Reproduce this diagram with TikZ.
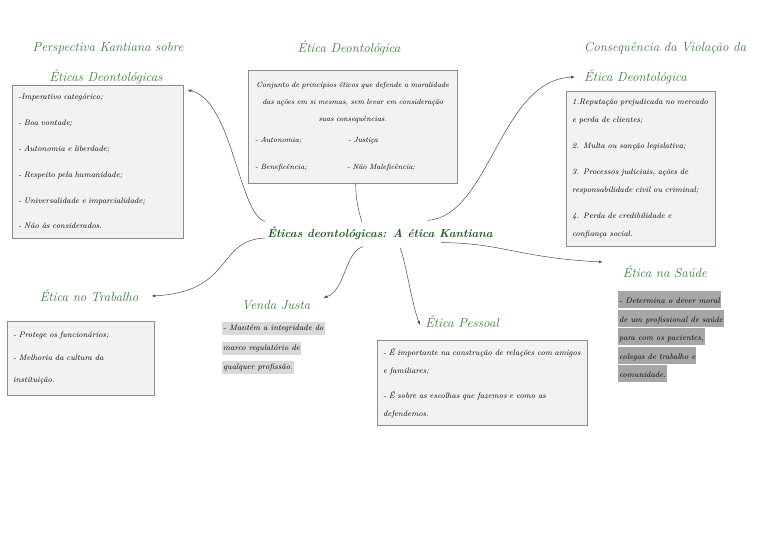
\documentclass[tikz,border=0pt]{standalone}
\usepackage{fontspec}
\usetikzlibrary{arrows.meta}
\definecolor{tituloverde}{HTML}{3B7A3B}
\definecolor{verdeescuro}{HTML}{1D5C1D}
\definecolor{caixafundo}{HTML}{F2F2F2}
\definecolor{caixaborda}{HTML}{8C8C8C}
\definecolor{realce}{HTML}{D9D9D9}
\definecolor{realceforte}{HTML}{A6A6A6}
\setlength{\fboxsep}{1pt}
\newcommand{\marca}[3][11pt]{\colorbox{#2}{\rule[-3.5pt]{0pt}{#1}#3}}
\begin{document}
\begin{tikzpicture}[x=1pt, y=-1pt,
  titulo/.style={font=\fontsize{13}{15}\selectfont\itshape, text=tituloverde, inner sep=1pt},
  caixa/.style={draw=caixaborda, fill=caixafundo, anchor=north west, align=left, inner xsep=6pt, font=\fontsize{8}{18}\selectfont\itshape},
  ligacao/.style={draw=black!70, line width=0.5pt, -{Latex[length=4pt,width=3pt]}}]
\useasboundingbox (0,0) rectangle (768,543);

% tema central
\node[font=\fontsize{11.5}{13}\selectfont\bfseries\itshape, text=verdeescuro, inner sep=2pt] (central) at (380,233) {Éticas deontológicas: A ética Kantiana};

% titulos
\node[titulo] (kanttituloA) at (108,48) {Perspectiva Kantiana sobre};
\node[titulo] (kanttituloB) at (106,77) {Éticas Deontológicas};
\node[titulo] (deontitulo) at (349,48) {Ética Deontológica};
\node[titulo, anchor=west] (constituloA) at (583,48) {Consequência da Violação da};
\node[titulo, anchor=west] (constituloB) at (583,77) {Ética Deontológica};
\node[titulo] (trabtitulo) at (89,296) {Ética no Trabalho};
\node[titulo] (vendatitulo) at (276,305) {Venda Justa};
\node[titulo] (pessoaltitulo) at (462,322) {Ética Pessoal};
\node[titulo] (saudetitulo) at (665,272) {Ética na Saúde};

% caixas
\node[caixa, text width=159pt, minimum height=153pt, inner ysep=8pt, font=\fontsize{8}{25.8}\selectfont\itshape] (kantbox) at (12,85) {-Imperativo categórico;\\ - Boa vontade;\\ - Autonomia e liberdade;\\ - Respeito pela humanidade;\\ - Universalidade e imparcialidade;\\ - Não às considerados.};
\node[caixa, align=center, text width=203pt, inner xsep=3pt, minimum height=113pt, inner ysep=9pt, font=\fontsize{7.5}{17}\selectfont\itshape] (deonbox) at (248,70) {\mbox{Conjunto de princípios éticos que defende a moralidade}\\ das ações em si mesmas, sem levar em consideração\\ suas consequências.\\[4pt]
  \makebox[203pt][l]{\hspace*{4pt}\makebox[93pt][l]{- Autonomia;}- Justiça}\\[10pt]
  \makebox[203pt][l]{\hspace*{4pt}\makebox[92pt][l]{- Beneficência;}- Não Maleficência;}};
\node[caixa, text width=137pt, minimum height=155pt, inner ysep=8pt] (consbox) at (566,91) {1.Reputação prejudicada no mercado\\ e perda de clientes;\\[8pt] 2. Multa ou sanção legislativa;\\[8pt] 3. Processos judiciais, ações de\\ responsabilidade civil ou criminal;\\[8pt] 4. Perda de credibilidade e\\ confiança social.};
\node[caixa, text width=135pt, minimum height=74pt, inner ysep=7pt, font=\fontsize{8}{22.5}\selectfont\itshape] (trabbox) at (7,321) {- Protege os funcionários;\\ - Melhoria da cultura da\\ instituição.};
\node[caixa, text width=198pt, minimum height=85pt, inner ysep=7pt] (pessoalbox) at (377,340) {- É importante na construção de relações com amigos\\ e familiares;\\[7pt] - É sobre as escolhas que fazemos e como as\\ defendemos.};

% textos realcados
\node[anchor=north west, align=left, inner sep=0pt, font=\fontsize{8}{19.5}\selectfont\itshape] (vendatexto) at (222,322) {\marca{realce}{- Mantém a integridade do}\\ \marca{realce}{marco regulatório de}\\ \marca{realce}{qualquer profissão.}};
\node[anchor=north west, align=left, inner sep=0pt, font=\fontsize{8}{18.5}\selectfont\itshape] (saudetexto) at (618,291) {\marca[15pt]{realceforte}{- Determina o dever moral}\\ \marca[15pt]{realceforte}{de um profissional de saúde}\\ \marca[15pt]{realceforte}{para com os pacientes,}\\ \marca[15pt]{realceforte}{colegas de trabalho e}\\ \marca[15pt]{realceforte}{comunidade.}};

% ligacoes
\draw[ligacao] ([yshift=3pt]central.north west) .. controls +(-26,-6) and +(45,10) .. ([xshift=4pt,yshift=-5pt]kantbox.north east);
\draw[draw=black!70, line width=0.5pt] ([xshift=3pt]deonbox.south) .. controls +(0,17) and +(-3,-10) .. ([xshift=-18pt,yshift=2pt]central.north);
\draw[ligacao] ([xshift=48pt,yshift=4pt]central.north) .. controls +(62,-5) and +(-75,3) .. ([xshift=-8pt]constituloB.west);
\draw[ligacao] ([xshift=61pt,yshift=-1pt]central.south) .. controls +(60,0) and +(-83,-4) .. ([xshift=-19pt,yshift=10pt]saudetitulo.west);
\draw[ligacao] ([yshift=-5pt]central.west) .. controls +(-49,2) and +(82,-4) .. ([xshift=12pt]trabtitulo.east);
\draw[ligacao] ([xshift=-17pt,yshift=-5pt]central.south) .. controls +(-18,5) and +(22,-8) .. ([xshift=12pt,yshift=7pt]vendatitulo.east);
\draw[ligacao] ([xshift=20pt,yshift=-6pt]central.south) .. controls +(6,15) and +(-8,-20) .. ([xshift=-4pt,yshift=-3pt]pessoaltitulo.west);
\end{tikzpicture}
\end{document}
